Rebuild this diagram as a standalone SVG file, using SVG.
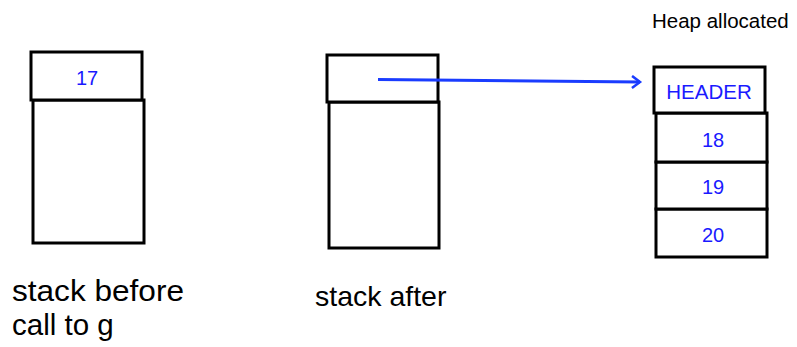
<svg xmlns="http://www.w3.org/2000/svg" width="797" height="347" viewBox="0 0 797 347">
<style>
.box{fill:#fff;stroke:#000;stroke-width:3}
.val{font-family:"Liberation Sans",Arial,sans-serif;font-size:20px;fill:#1a1aff;text-anchor:middle}
.lbl{font-family:"Liberation Sans",Arial,sans-serif;fill:#000}
</style>
<defs>
<marker id="ah" markerWidth="12" markerHeight="14" refX="9" refY="7" orient="auto" markerUnits="userSpaceOnUse" viewBox="0 0 12 14">
<path d="M1,1 L9,7 L1,13" fill="none" stroke="#1a3cff" stroke-width="2.5"/>
</marker>
</defs>
<rect width="797" height="347" fill="#fff"/>
<g id="stack-before">
<rect class="box" x="33" y="100" width="111" height="143"/>
<rect class="box" x="31" y="52" width="111" height="48"/>
<text class="val" x="87" y="85">17</text>
</g>
<g id="stack-after">
<rect class="box" x="329" y="102" width="110" height="146"/>
<rect class="box" x="327" y="55" width="111" height="47"/>
</g>
<g id="heap">
<rect class="box" x="656" y="209" width="111" height="48"/>
<rect class="box" x="656" y="162" width="111" height="47"/>
<rect class="box" x="656" y="113" width="111" height="49"/>
<rect class="box" x="654" y="67" width="111" height="46"/>
<text class="val" x="709" y="99" style="font-size:20.5px">HEADER</text>
<text class="val" x="713" y="147">18</text>
<text class="val" x="713" y="194">19</text>
<text class="val" x="713" y="242">20</text>
</g>
<g id="connectors">
<line x1="378" y1="79.5" x2="640" y2="82" stroke="#1a3cff" stroke-width="3" marker-end="url(#ah)"/>
</g>
<text class="lbl" x="652" y="28" font-size="20.5">Heap allocated</text>
<text class="lbl" font-size="29.5" textLength="172" lengthAdjust="spacingAndGlyphs" x="12" y="301">stack before</text>
<text class="lbl" font-size="29.5" x="12" y="335">call to g</text>
<text class="lbl" x="315" y="306" font-size="28.5">stack after</text>
</svg>
